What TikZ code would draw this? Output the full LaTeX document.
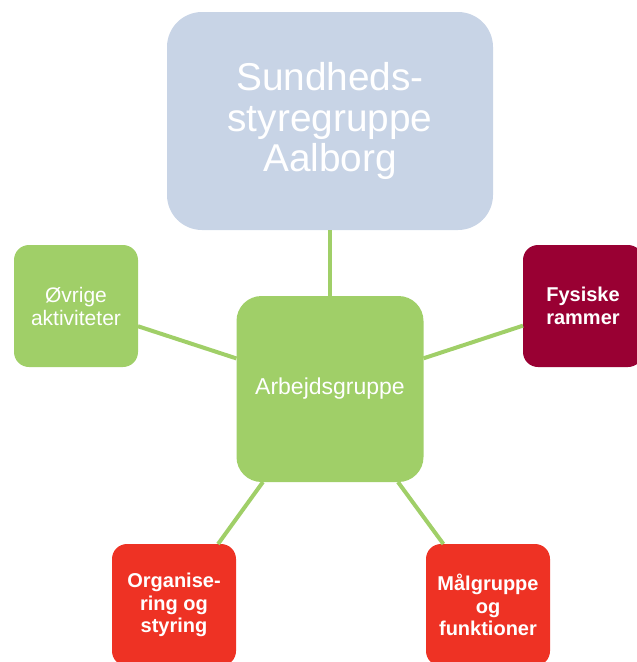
\documentclass[tikz,border=0pt]{standalone}
\usepackage{fontspec}
\setmainfont{Liberation Sans}
\definecolor{steer}{RGB}{200,212,230}
\definecolor{leaf}{RGB}{160,207,104}
\definecolor{wine}{RGB}{153,0,51}
\definecolor{flame}{RGB}{238,50,36}

\begin{document}
\begin{tikzpicture}[x=1pt,y=-1pt,line width=4pt,
  box/.style={draw=none,rounded corners=15pt,inner sep=0pt,outer sep=0pt,
    text=white,align=center,minimum width=124pt,minimum height=122pt,
    font=\fontsize{21}{23}\selectfont},
  bluebox/.style={box,fill=steer,rounded corners=35pt,minimum width=326pt,
    minimum height=218pt,font=\fontsize{38.8}{40.5}\selectfont},
  greenbox/.style={box,fill=leaf},
  redbox/.style={box,fill=flame,font=\fontsize{20}{22.5}\selectfont\bfseries},
  link/.style={draw=leaf}]
  \clip (0,0) rectangle (637,662);

  \node[bluebox] (styre) at (330,121) {Sundheds-\\styregruppe\\Aalborg};
  \node[greenbox,minimum width=187pt,minimum height=186pt,rounded corners=25pt,
    font=\fontsize{23}{24}\selectfont] (arbejd) at (330,389) {Arbejdsgruppe};
  \node[greenbox] (ovrige) at (76,306) {Øvrige\\aktiviteter};
  \node[redbox,fill=wine,minimum width=120pt] (fysisk) at (583,306) {Fysiske\\rammer};
  \node[redbox] (organ) at (174,605) {Organise-\\ring og\\styring};
  \node[redbox] (malgr) at (488,605) {Målgruppe\\og\\funktioner};

  \draw[link] (styre) -- (arbejd);
  \draw[link] (ovrige) -- (arbejd);
  \draw[link] (fysisk) -- (arbejd);
  \draw[link] (organ) -- (arbejd);
  \draw[link] (malgr) -- (arbejd);
\end{tikzpicture}
\end{document}
